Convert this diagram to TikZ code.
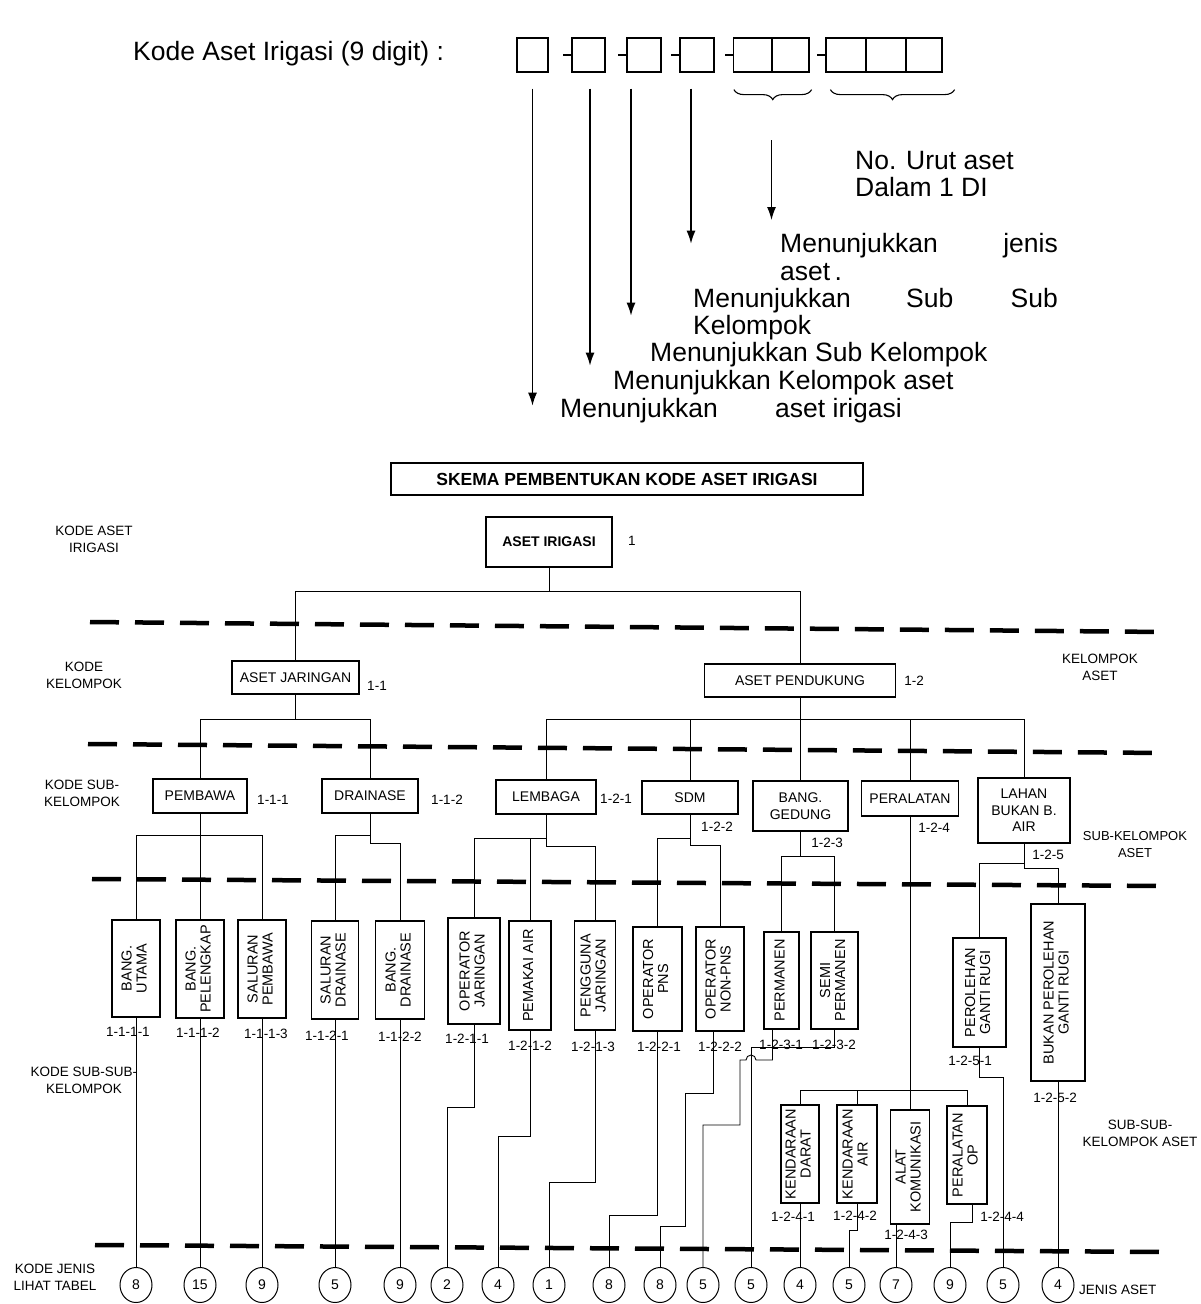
\documentclass[tikz,border=0pt]{standalone}
\usepackage{fontspec}
\setmainfont{Liberation Sans}
\usetikzlibrary{arrows.meta,shapes.geometric,decorations.pathreplacing,calc}
\newcommand{\vt}[1]{\rotatebox{90}{\begin{tabular}{@{}c@{}}#1\end{tabular}}}
\begin{document}
\begin{tikzpicture}[x=1pt,y=-1pt,
  box/.style={draw, line width=1.1pt, inner sep=0pt, align=center, font=\fontsize{14}{16.5}\selectfont},
  vbox/.style={draw, line width=1.1pt, inner sep=0pt, font=\fontsize{14.5}{15}\selectfont},
  code/.style={inner sep=0pt, font=\fontsize{13.5}{16}\selectfont},
  side/.style={inner sep=0pt, align=center, font=\fontsize{13.5}{17}\selectfont},
  conn/.style={line width=0.9pt},
  lvl/.style={line width=4.5pt, dash pattern=on 29pt off 16pt},
  jen/.style={draw, ellipse, line width=1pt, minimum width=32pt, minimum height=35pt, inner sep=0pt, font=\fontsize{14}{16}\selectfont},
  big/.style={inner sep=0pt, font=\fontsize{26.5}{30}\selectfont},
  dig/.style={draw, line width=1.2pt, minimum height=34pt, inner sep=0pt},
  arr/.style={line width=1.2pt, -{Latex[length=13pt,width=9pt]}},
  brc/.style={line width=1.1pt, decorate, decoration={brace, mirror, amplitude=10pt}}
]
\useasboundingbox (0,0) rectangle (1201,1304);
\fill[white] (0,0) rectangle (1201,1304);

% ---------- top: code format ----------
\node[big, anchor=base west] (kode) at (133,60) {Kode Aset Irigasi (9 digit) :};
\node[dig, minimum width=31pt] (b1) at (532.5,55) {};
\node[dig, minimum width=33pt] (b2) at (588.5,55) {};
\node[dig, minimum width=34pt] (b3) at (644,55) {};
\node[dig, minimum width=34pt] (b4) at (697,55) {};
\node[dig, minimum width=38pt] (b5) at (752.5,55) {};
\node[dig, minimum width=37pt] (b6) at (790.5,55) {};
\node[dig, minimum width=40pt] (b7) at (846,55) {};
\node[dig, minimum width=40pt] (b8) at (886,55) {};
\node[dig, minimum width=36pt] (b9) at (924,55) {};
\foreach \b in {b2,b3,b4,b5,b7} \draw[line width=1.2pt] (\b.west) -- ++(-8,0);

\draw[arr] ($(b1.south)+(0,16)$) -- ++(0,317);
\draw[arr] ($(b2.south)+(1.5,16)$) -- ++(0,277);
\draw[arr] ($(b3.south)+(-13,16)$) -- ++(0,227);
\draw[arr] ($(b4.south)+(-6,16)$) -- ++(0,155);
\draw[brc] ($(b5.south west)+(1,17)$) -- ($(b6.south east)+(2,17)$);
\draw[brc] ($(b7.south west)+(5,17)$) -- ($(b9.south east)+(12,17)$);
\coordinate (u5) at (771.5,140);
\draw[arr] (u5) -- ++(0,80);

\node[big, anchor=base west] (nu1) at (855,169.5) {No. Urut aset};
\node[big, anchor=base west] (nu2) at (855,196.5) {Dalam 1 DI};
\node[big, anchor=base west] (t5a) at (780,252.5) {Menunjukkan};
\node[big, anchor=base east] (t5b) at (1058,252.5) {jenis};
\node[big, anchor=base west] (t5c) at (780,280.5) {aset\,.};
\node[big, anchor=base west] (t4a) at (693,307.5) {Menunjukkan};
\node[big, anchor=base west] (t4b) at (906,307.5) {Sub};
\node[big, anchor=base east] (t4c) at (1058,307.5) {Sub};
\node[big, anchor=base west] (t4d) at (693,334.5) {Kelompok};
\node[big, anchor=base west] (t3) at (650,361.5) {Menunjukkan Sub Kelompok};
\node[big, anchor=base west] (t2) at (613,389.5) {Menunjukkan Kelompok aset};
\node[big, anchor=base west] (t1a) at (560,417.5) {Menunjukkan};
\node[big, anchor=base west] (t1b) at (775,417.5) {aset irigasi};

% ---------- level separators ----------
\draw[lvl] (90,622) -- (1165,632);
\draw[lvl] (88,744) -- (1165,753);
\draw[lvl] (92,879) -- (1168,886);
\draw[lvl] (95,1245) -- (1170,1252);

% ---------- side labels ----------
\node[side] (l1) at (94,539) {KODE ASET\\IRIGASI};
\node[side] (l2) at (84,675.5) {KODE\\KELOMPOK};
\node[side] (l3) at (82,793.5) {KODE SUB-\\KELOMPOK};
\node[side] (l4) at (84,1080) {KODE SUB-SUB-\\KELOMPOK};
\node[side] (l5) at (55,1277.5) {KODE JENIS\\LIHAT TABEL};
\node[side] (r1) at (1100,667) {KELOMPOK\\ASET};
\node[side, font=\fontsize{13}{17}\selectfont] (r2) at (1135,845) {SUB-KELOMPOK\\ASET};
\node[side] (r3) at (1140,1133) {SUB-SUB-\\KELOMPOK ASET};
\node[side, anchor=west] (r4) at (1079,1290) {JENIS ASET};

% ---------- tree ----------
\node[box, font=\bfseries\fontsize{17.5}{20}\selectfont, minimum width=472pt, minimum height=32pt] (title) at (627,479) {SKEMA PEMBENTUKAN KODE ASET IRIGASI};
\node[box, font=\bfseries\fontsize{14}{16}\selectfont, minimum width=126pt, minimum height=50pt] (AI) at (549,542) {ASET IRIGASI};
\node[code, anchor=west] (cAI) at (628,541) {1};

\node[box, minimum width=127pt, minimum height=33pt] (AJ) at (295.5,677.5) {ASET JARINGAN};
\node[code] (cAJ) at (377,686) {1-1};
\node[box, minimum width=191pt, minimum height=33pt] (AP) at (800,680.5) {ASET PENDUKUNG};
\node[code] (cAP) at (914,681) {1-2};

\node[box, minimum width=94pt, minimum height=34pt] (PEM) at (200,796) {PEMBAWA};
\node[code] at (273,800) {1-1-1};
\node[box, minimum width=96pt, minimum height=34pt] (DRA) at (370,796) {DRAINASE};
\node[code] at (447,800) {1-1-2};
\node[box, minimum width=100pt, minimum height=34pt] (LEM) at (546,797) {LEMBAGA};
\node[code] at (616,799) {1-2-1};
\node[box, minimum width=96pt, minimum height=33pt] (SDM) at (690,797.5) {SDM};
\node[code] at (717,827) {1-2-2};
\node[box, minimum width=95pt, minimum height=50pt] (BG) at (800.5,806) {BANG.\\GEDUNG};
\node[code] at (827,843) {1-2-3};
\node[box, minimum width=97pt, minimum height=35pt] (PER) at (910,798.5) {PERALATAN};
\node[code] at (934,828) {1-2-4};
\node[box, minimum width=92pt, minimum height=65pt] (LAH) at (1024,810.5) {LAHAN\\BUKAN B.\\AIR};
\node[code] at (1048,855) {1-2-5};

% sub-sub-kelompok boxes
\node[vbox, minimum width=48pt, minimum height=97pt] (BU) at (136,968.5) {\vt{BANG.\\UTAMA}};
\node[vbox, minimum width=48pt, minimum height=98pt] (BP) at (200,969) {\vt{BANG.\\PELENGKAP}};
\node[vbox, minimum width=48pt, minimum height=98pt] (SP) at (262,969) {\vt{SALURAN\\PEMBAWA}};
\node[vbox, minimum width=47pt, minimum height=98pt] (SD) at (335,970) {\vt{SALURAN\\DRAINASE}};
\node[vbox, minimum width=49pt, minimum height=98pt] (BD) at (400,970) {\vt{BANG.\\DRAINASE}};
\node[vbox, minimum width=52pt, minimum height=106pt] (OJ) at (474,971) {\vt{OPERATOR\\JARINGAN}};
\node[vbox, minimum width=42pt, minimum height=109pt] (PA) at (530,975.5) {\vt{PEMAKAI AIR}};
\node[vbox, minimum width=41pt, minimum height=109pt] (PJ) at (595,975.5) {\vt{PENGGUNA\\JARINGAN}};
\node[vbox, minimum width=49pt, minimum height=104pt] (OP) at (657.5,979) {\vt{OPERATOR\\PNS}};
\node[vbox, minimum width=48pt, minimum height=104pt] (ON) at (720,979) {\vt{OPERATOR\\NON-PNS}};
\node[vbox, minimum width=35pt, minimum height=97pt] (PM) at (781.5,980.5) {\vt{PERMANEN}};
\node[vbox, minimum width=47pt, minimum height=97pt] (SPm) at (834.5,980.5) {\vt{SEMI\\PERMANEN}};
\node[vbox, minimum width=53pt, minimum height=109pt] (PGR) at (979.5,992.5) {\vt{PEROLEHAN\\GANTI RUGI}};
\node[vbox, minimum width=54pt, minimum height=177pt] (BPGR) at (1058,992.5) {\vt{BUKAN PEROLEHAN\\GANTI RUGI}};
\node[vbox, minimum width=38pt, minimum height=98pt] (KD) at (800,1154) {\vt{KENDARAAN\\DARAT}};
\node[vbox, minimum width=40pt, minimum height=98pt] (KA) at (857,1154) {\vt{KENDARAAN\\AIR}};
\node[vbox, minimum width=39pt, minimum height=114pt] (AK) at (910,1167) {\vt{ALAT\\KOMUNIKASI}};
\node[vbox, minimum width=40pt, minimum height=98pt] (PO) at (967,1155) {\vt{PERALATAN\\OP}};

% codes
\node[code] at (128,1032) {1-1-1-1};
\node[code] at (198,1033) {1-1-1-2};
\node[code] at (266,1034) {1-1-1-3};
\node[code] at (327,1036) {1-1-2-1};
\node[code] at (400,1037) {1-1-2-2};
\node[code] at (467,1039) {1-2-1-1};
\node[code] at (530,1046) {1-2-1-2};
\node[code] at (593,1047) {1-2-1-3};
\node[code] at (659,1047) {1-2-2-1};
\node[code] at (720,1047) {1-2-2-2};
\node[code] at (781,1045) {1-2-3-1};
\node[code] at (834,1045) {1-2-3-2};
\node[code] at (970,1061) {1-2-5-1};
\node[code] at (1055,1098) {1-2-5-2};
\node[code] at (793,1217) {1-2-4-1};
\node[code] at (855,1216) {1-2-4-2};
\node[code] at (906,1235) {1-2-4-3};
\node[code] at (1002,1217) {1-2-4-4};

% jenis circles
\node[jen] (c1) at (136,1285) {8};
\node[jen] (c2) at (200,1285) {15};
\node[jen] (c3) at (262,1285) {9};
\node[jen] (c4) at (335,1285) {5};
\node[jen] (c5) at (400,1285) {9};
\node[jen] (c6) at (447,1285) {2};
\node[jen] (c7) at (498,1285) {4};
\node[jen] (c8) at (549,1285) {1};
\node[jen] (c9) at (609,1285) {8};
\node[jen] (c10) at (660,1285) {8};
\node[jen] (c11) at (703,1285) {5};
\node[jen] (c12) at (751,1285) {5};
\node[jen] (c13) at (800,1285) {4};
\node[jen] (c14) at (849,1285) {5};
\node[jen] (c15) at (896,1285) {7};
\node[jen] (c16) at (950,1285) {9};
\node[jen] (c17) at (1003,1285) {5};
\node[jen] (c18) at (1058,1285) {4};

% ---------- connectors ----------
\coordinate (y1) at (0,591);
\draw[conn] (AI.south) -- (AI.south |- y1);
\draw[conn] (AJ.north) |- (AP.north |- y1) -- (AP.north);

\coordinate (y2) at (0,719);
\draw[conn] (AJ.south) -- (AJ.south |- y2);
\draw[conn] (PEM.north) |- (DRA.north |- y2) -- (DRA.north);
\draw[conn] (AP.south) -- (AP.south |- y2);
\draw[conn] (LEM.north) |- (LAH.north |- y2) -- (LAH.north);
\foreach \n in {SDM,BG,PER} \draw[conn] (\n.north) -- (\n.north |- y2);

\draw[conn] (PEM.south) -- (BP.north);
\draw[conn] (BU.north) |- (SP.north |- 0,835) -- (SP.north);
\draw[conn] (DRA.south) |- (BD.north |- 0,843) -- (BD.north);
\draw[conn] (SD.north) |- (DRA.south |- 0,835);
\draw[conn] (OJ.north) |- (LEM.south |- 0,838);
\draw[conn] (PA.north) -- (PA.north |- 0,838);
\draw[conn] (LEM.south) |- (PJ.north |- 0,846) -- (PJ.north);
\draw[conn] (OP.north) |- (SDM.south |- 0,838);
\draw[conn] (SDM.south) |- (ON.north |- 0,845) -- (ON.north);
\draw[conn] (BG.south) -- (BG.south |- 0,856);
\draw[conn] (PM.north) |- (SPm.north |- 0,856) -- (SPm.north);
\draw[conn] (PER.south) -- (PER.south |- AK.north);
\draw[conn] (KD.north) |- (PO.north |- 0,1090) -- (PO.north);
\draw[conn] (KA.north) -- (KA.north |- 0,1090);
\draw[conn] (PGR.north) |- (LAH.south |- 0,863);
\draw[conn] (LAH.south) |- (BPGR.north |- 0,868) -- (BPGR.north);

\draw[conn] (BU.south) -- (c1.north);
\draw[conn] (BP.south) -- (c2.north);
\draw[conn] (SP.south) -- (c3.north);
\draw[conn] (SD.south) -- (c4.north);
\draw[conn] (BD.south) -- (c5.north);
\draw[conn] (OJ.south) |- (c6.north |- 0,1107) -- (c6.north);
\draw[conn] (PA.south) |- (c7.north |- 0,1136) -- (c7.north);
\draw[conn] (PJ.south) |- (c8.north |- 0,1182) -- (c8.north);
\draw[conn] (OP.south) |- (c9.north |- 0,1215) -- (c9.north);
\draw[conn] ($(ON.south)+(-7,0)$) -- ++(0,62) -- ++(-28,0) |- (c10.north |- 0,1226) -- (c10.north);
\draw[conn] ($(PM.south)+(-9,0)$) |- ($(c12.north |- 0,1060)+(5,0)$) arc[start angle=0,end angle=180,radius=5pt] -- ++(-6,0) |- (c11.north |- 0,1125) -- (c11.north);
\draw[conn] (SPm.south) |- (c12.north |- 0,1047) -- (c12.north);
\draw[conn] (KD.south) -- (c13.north);
\draw[conn] (KA.south) |- (c14.north |- 0,1230) -- (c14.north);
\draw[conn] ($(AK.south)+(-14,0)$) -- (c15.north);
\draw[conn] ($(PO.south)+(5,0)$) |- (c16.north |- 0,1222) -- (c16.north);
\draw[conn] (PGR.south) |- (c17.north |- 0,1077) -- (c17.north);
\draw[conn] (BPGR.south) -- (c18.north);
\end{tikzpicture}
\end{document}
